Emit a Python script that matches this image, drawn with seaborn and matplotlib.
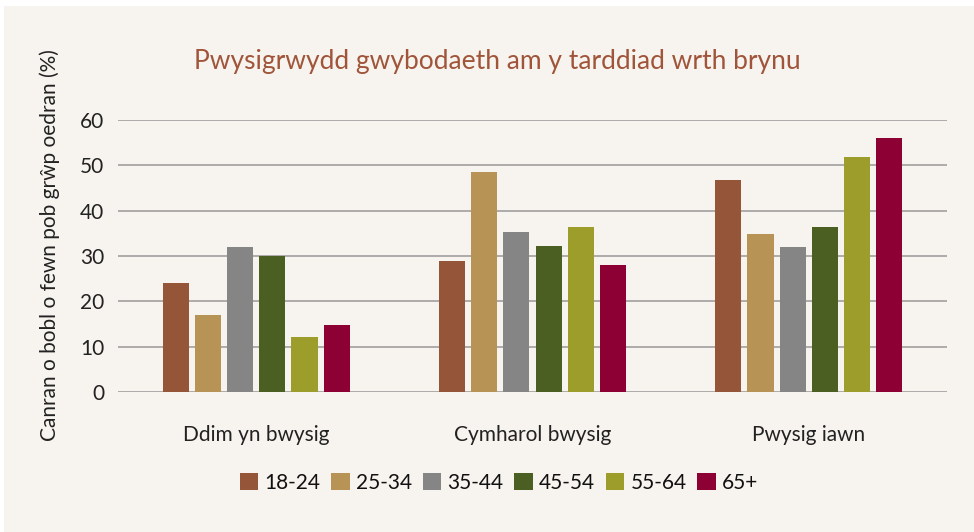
import matplotlib
matplotlib.use("Agg")
import matplotlib.pyplot as plt
import pandas as pd
import seaborn as sns

# ── Data ──────────────────────────────────────────────────────────────────
categories = ["Ddim yn bwysig", "Cymharol bwysig", "Pwysig iawn"]
age_groups = ["18-24", "25-34", "35-44", "45-54", "55-64", "65+"]
values = {
    "18-24": [24.0, 28.8, 46.8],
    "25-34": [17.0, 48.5, 34.9],
    "35-44": [32.0, 35.4, 32.0],
    "45-54": [30.0, 32.1, 36.4],
    "55-64": [12.1, 36.3, 51.8],
    "65+": [14.8, 28.1, 56.0],
}
colors = ["#955538", "#B89356", "#858585", "#4B5F22", "#9D9D2C", "#8C0034"]
yticks = [0, 10, 20, 30, 40, 50, 60]

BG = "#F7F4EF"

rows = [
    {"category": cat, "age": age, "value": v}
    for age in age_groups
    for cat, v in zip(categories, values[age])
]
df = pd.DataFrame(rows)

sns.set_theme(style="white")
plt.rcParams["font.family"] = ["Lato", "DejaVu Sans"]

fig = plt.figure(figsize=(9.74, 5.32), dpi=100, facecolor="white")
fig.patches.append(
    plt.Rectangle((4 / 974, 0), 1, 1 - 6 / 532, transform=fig.transFigure,
                  facecolor=BG, edgecolor="none", zorder=-10)
)
ax = fig.add_axes([118 / 974, 1 - 392 / 532, (947 - 118) / 974, (392 - 120) / 532])
ax.set_facecolor(BG)

sns.barplot(
    data=df, x="category", y="value", hue="age",
    order=categories, hue_order=age_groups, palette=colors,
    width=0.7, gap=0.19, saturation=1, linewidth=0, edgecolor="none",
    ax=ax, legend=True,
)

ax.set_ylim(0, 60)
ax.set_xlim(-0.5, 2.5)
ax.set_yticks(yticks)
ax.set_yticklabels([str(t) for t in yticks], fontsize=15, color="#222222")
ax.tick_params(axis="x", labelsize=15, colors="#222222", length=0, pad=24)
ax.tick_params(axis="y", length=0, pad=10)
ax.yaxis.grid(True, color="#A8A6A4", linewidth=1.3)
ax.set_axisbelow(True)
for s in ax.spines.values():
    s.set_visible(False)
ax.set_xlabel("")
ax.set_ylabel("")
fig.text(50 / 974, 1 - 245 / 532, "Canran o bobl o fewn pob grŵp oedran (%)",
         rotation=90, ha="center", va="center", fontsize=15, color="#222222")

fig.text(497 / 974, 1 - 62 / 532, "Pwysigrwydd gwybodaeth am y tarddiad wrth brynu",
         ha="center", va="center", fontsize=19, color="#A0553A")

handles, labels = ax.get_legend_handles_labels()
ax.get_legend().remove()
fig.legend(handles, labels, loc="center", bbox_to_anchor=(499 / 974, 1 - 483 / 532),
           ncol=6, frameon=False, fontsize=15, handlelength=0.9, handleheight=0.9,
           handletextpad=0.3, columnspacing=0.5, labelcolor="#111111")

fig.savefig("out.png", dpi=100, facecolor=fig.get_facecolor())
